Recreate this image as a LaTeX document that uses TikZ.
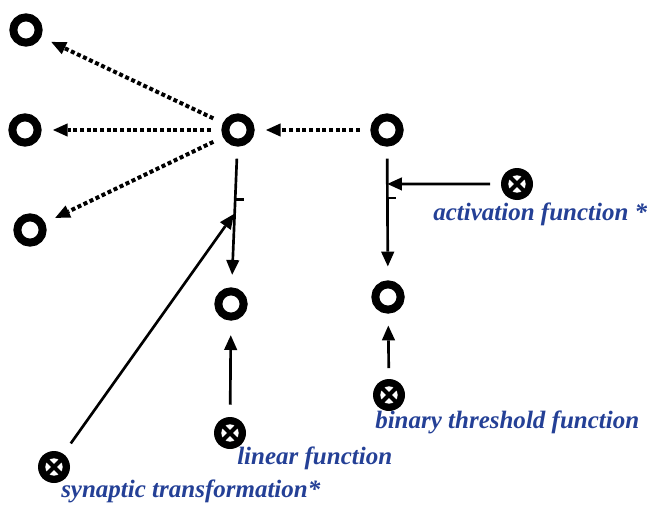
\documentclass[tikz,border=0pt]{standalone}
\usepackage{fontspec}
\setmainfont{Liberation Serif}
\usetikzlibrary{arrows.meta,calc}
\definecolor{lblblue}{RGB}{36,64,150}
\begin{document}
\begin{tikzpicture}[x=0.75pt,y=-0.75pt,
  unit/.style={circle,draw=black,line width=6pt,minimum size=19pt,inner sep=0pt},
  gate/.style={circle,fill=black,minimum size=24pt,inner sep=0pt,
    path picture={
      \fill[white] (path picture bounding box.center) circle (6.5pt);
      \draw[black,line width=3pt]
        ($(path picture bounding box.center)+(-9pt,-9pt)$) -- ($(path picture bounding box.center)+(9pt,9pt)$)
        ($(path picture bounding box.center)+(-9pt,9pt)$) -- ($(path picture bounding box.center)+(9pt,-9pt)$);
    }},
  flow/.style={line width=2pt,-{Triangle[length=11pt,width=10pt,line width=0pt]}},
  feed/.style={line width=3pt,dash pattern=on 3pt off 2pt,
    -{Triangle[length=11pt,width=10pt,line width=0pt]},shorten <=8pt,shorten >=8.5pt},
  tickmark/.style={line width=2.2pt},
  lbl/.style={font=\fontsize{18.75}{20}\selectfont\bfseries\itshape,text=lblblue,
    anchor=base west,inner sep=0pt}]
\useasboundingbox (0,0) rectangle (652,506);

% units
\node[unit] (tl) at (26,30) {};
\node[unit] (ml) at (25,130) {};
\node[unit] (bl) at (30,230) {};
\node[unit] (A)  at (238,130) {};
\node[unit] (B)  at (387,130) {};
\node[unit] (a2) at (231,304) {};
\node[unit] (b2) at (388,297) {};

% gates
\node[gate] (act) at (517,184) {};
\node[gate] (bin) at (389,395) {};
\node[gate] (lin) at (230,433) {};
\node[gate] (syn) at (54,467) {};

% junction points on the vertical connectors
\coordinate (tA) at ($(A)!0.402!(a2)$);
\coordinate (jA) at ($(A)!0.477!(a2)$);
\coordinate (tB) at ($(B)!0.407!(b2)$);
\coordinate (jB) at ($(B)!0.323!(b2)$);

% dotted feed connectors
\draw[feed] (B) -- (A);
\draw[feed] (A) -- (tl);
\draw[feed] (A) -- (ml);
\draw[feed] (A) -- (bl);

% solid connectors
\draw[flow,shorten <=9pt,shorten >=9.5pt] (A) -- (a2);
\draw[flow,shorten <=9pt,shorten >=10.5pt] (B) -- (b2);
\draw[tickmark] (tA) -- ++(9,0);
\draw[tickmark] (tB) -- ++(9,0);
\draw[flow,shorten <=8pt] (act) -- (jB);
\draw[flow,shorten <=9.5pt,shorten >=1pt] (syn) -- (jA);
\draw[flow,shorten <=9pt,shorten >=11pt] (lin) -- (a2);
\draw[flow,shorten <=8pt,shorten >=9pt] (bin) -- (b2);

% labels
\node[lbl] (lact) at (433,220) {activation function *};
\node[lbl] (lbin) at (375,428) {binary threshold function};
\node[lbl] (llin) at (237,464) {linear function};
\node[lbl] (lsyn) at (61,497) {synaptic transformation*};
\end{tikzpicture}
\end{document}
